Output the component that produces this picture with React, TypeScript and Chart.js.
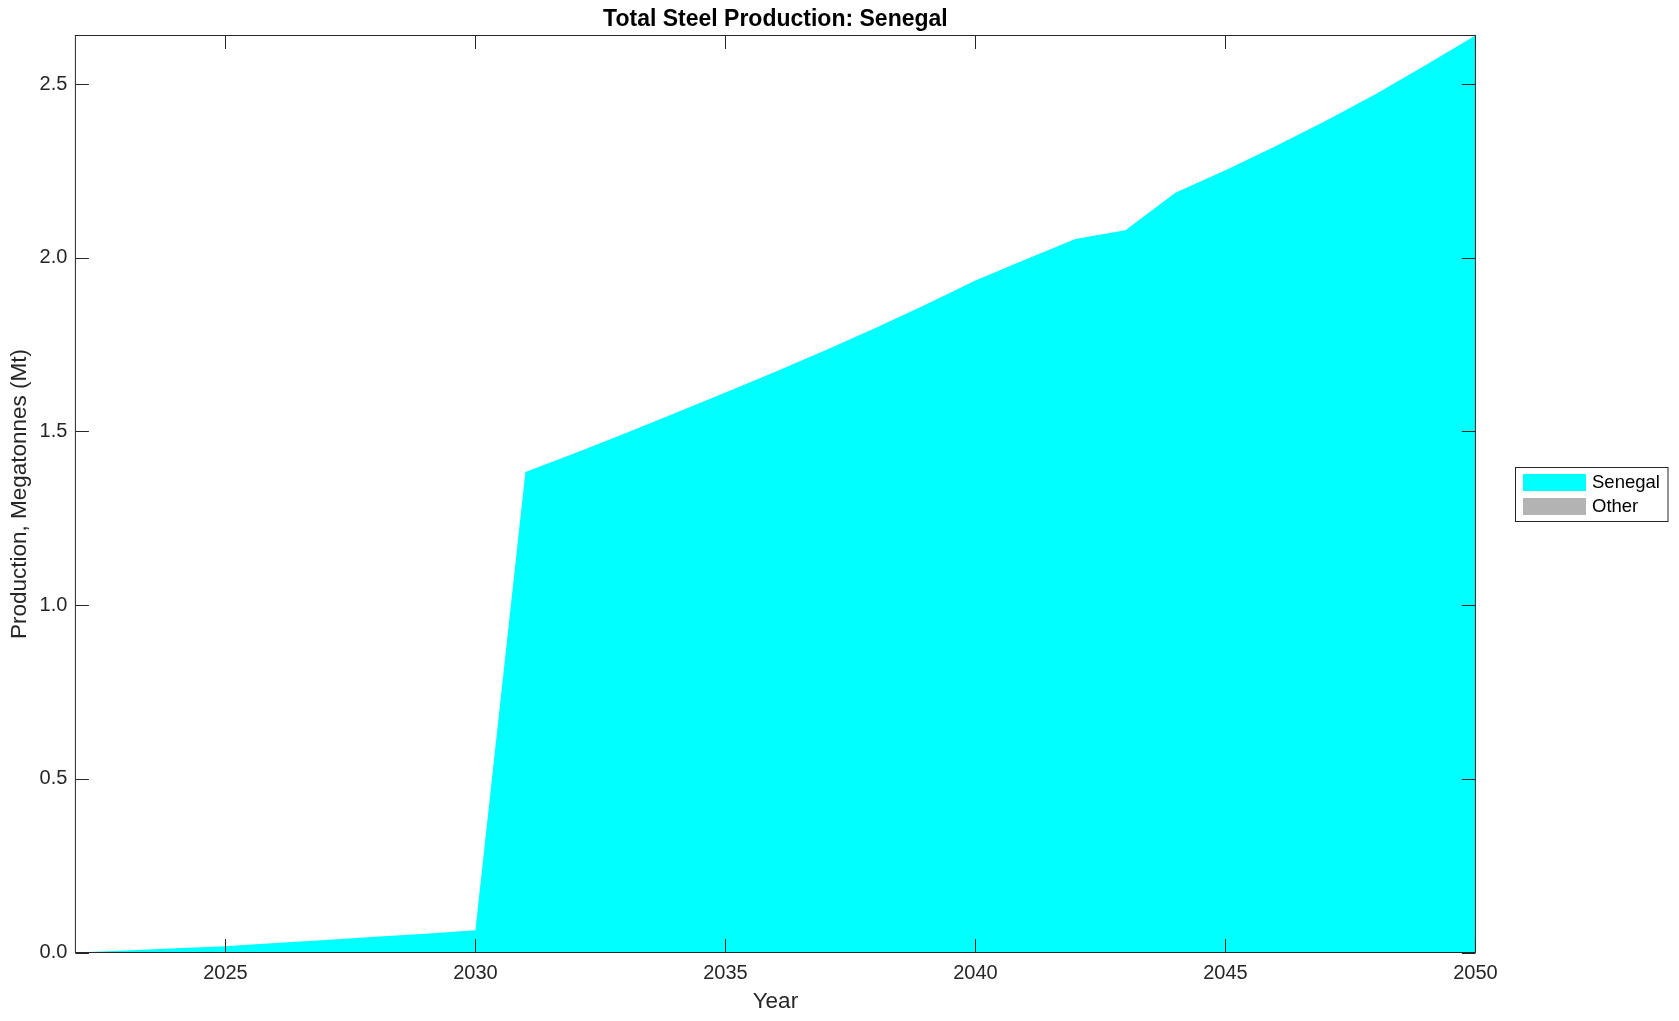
import React, { useEffect, useRef } from "react";
import { Chart, registerables } from "chart.js";

Chart.register(...registerables);

const years = [2022, 2023, 2024, 2025, 2026, 2027, 2028, 2029, 2030, 2031, 2032, 2033, 2034, 2035, 2036, 2037, 2038, 2039, 2040, 2041, 2042, 2043, 2044, 2045, 2046, 2047, 2048, 2049, 2050];
const senegal = [0.0, 0.006, 0.012, 0.018, 0.027, 0.036, 0.045, 0.054, 0.064, 1.383, 1.438, 1.495, 1.553, 1.612, 1.672, 1.734, 1.798, 1.865, 1.935, 1.995, 2.054, 2.079, 2.187, 2.252, 2.321, 2.394, 2.471, 2.554, 2.64];
const other = [0, 0, 0, 0, 0, 0, 0, 0, 0, 0, 0, 0, 0, 0, 0, 0, 0, 0, 0, 0, 0, 0, 0, 0, 0, 0, 0, 0, 0];
const seriesNames = ["Senegal", "Other"];
const seriesColors = ["#00FFFF", "#B3B3B3"];
const xTicks = [2025, 2030, 2035, 2040, 2045, 2050];
const yTicks = [0, 0.5, 1.0, 1.5, 2.0, 2.5];
const titleText = "Total Steel Production: Senegal";
const xTitle = "Year";
const yTitle = "Production, Megatonnes (Mt)";

const FONT = "'Liberation Sans', Arial, Helvetica, sans-serif";
const AXIS_COLOR = "#262626";

const decorPlugin = {
  id: "decor",
  afterDraw(chart: any) {
    const ctx = chart.ctx;
    const { left, right, top, bottom } = chart.chartArea;
    const xs = chart.scales.x;
    const ys = chart.scales.y;
    ctx.save();
    // frame
    ctx.strokeStyle = AXIS_COLOR;
    ctx.lineWidth = 1;
    ctx.strokeRect(left, top, right - left, bottom - top);
    const tl = 13.5;
    ctx.beginPath();
    xTicks.forEach((v) => {
      const px = Math.round(xs.getPixelForValue(v)) + 0.5;
      ctx.moveTo(px, bottom);
      ctx.lineTo(px, bottom - tl);
      ctx.moveTo(px, top);
      ctx.lineTo(px, top + tl);
    });
    yTicks.forEach((v) => {
      const py = Math.round(ys.getPixelForValue(v)) + 0.5;
      ctx.moveTo(left, py);
      ctx.lineTo(left + tl, py);
      ctx.moveTo(right, py);
      ctx.lineTo(right - tl, py);
    });
    ctx.stroke();

    const cx = (left + right) / 2;
    const cy = (top + bottom) / 2;
    // title
    ctx.fillStyle = "#000000";
    ctx.font = `bold 23px ${FONT}`;
    ctx.textAlign = "center";
    ctx.textBaseline = "middle";
    ctx.fillText(titleText, cx, 19.5);
    // axis titles
    ctx.fillStyle = AXIS_COLOR;
    ctx.font = `22.5px ${FONT}`;
    ctx.fillText(xTitle, cx, 1002);
    ctx.save();
    ctx.translate(20, cy);
    ctx.rotate(-Math.PI / 2);
    ctx.fillText(yTitle, 0, 0);
    ctx.restore();

    // legend
    const lx = 1515.5, ly = 467.5, lw = 152.5, lh = 54;
    ctx.fillStyle = "#FFFFFF";
    ctx.fillRect(lx, ly, lw, lh);
    ctx.strokeStyle = AXIS_COLOR;
    ctx.lineWidth = 1;
    ctx.strokeRect(lx, ly, lw, lh);
    ctx.font = `18.5px ${FONT}`;
    ctx.textAlign = "left";
    ctx.textBaseline = "middle";
    seriesNames.forEach((name, i) => {
      const sy = 474 + i * 24;
      ctx.fillStyle = seriesColors[i];
      ctx.fillRect(1523, sy, 63, 17);
      ctx.fillStyle = "#000000";
      ctx.fillText(name, 1592, sy + 9);
    });
    ctx.restore();
  },
};

export default function App() {
  const ref = useRef<HTMLCanvasElement | null>(null);
  useEffect(() => {
    document.body.style.margin = "0";
    const canvas = ref.current;
    if (!canvas) return;
    const chart = new Chart(canvas, {
      type: "line",
      data: {
        labels: years,
        datasets: [
          {
            label: seriesNames[0],
            data: years.map((y, i) => ({ x: y, y: senegal[i] })),
            backgroundColor: seriesColors[0],
            borderColor: seriesColors[0],
            borderWidth: 0,
            pointRadius: 0,
            fill: "origin",
            tension: 0,
          },
          {
            label: seriesNames[1],
            data: years.map((y, i) => ({ x: y, y: other[i] })),
            backgroundColor: seriesColors[1],
            borderColor: seriesColors[1],
            borderWidth: 0,
            pointRadius: 0,
            fill: "-1",
            tension: 0,
          },
        ],
      },
      options: {
        animation: false,
        responsive: false,
        maintainAspectRatio: false,
        layout: { padding: { top: 35.5, right: 203.6, left: 0, bottom: 0 } },
        plugins: {
          legend: { display: false },
          title: { display: false },
          tooltip: { enabled: false },
        },
        scales: {
          x: {
            type: "linear",
            min: 2022,
            max: 2050,
            grid: { display: false, drawTicks: false },
            border: { display: false },
            ticks: {
              color: AXIS_COLOR,
              font: { family: FONT, size: 20 },
              padding: 9,
              maxRotation: 0,
              autoSkip: false,
              callback: (v: any) => String(v),
            },
            afterBuildTicks: (s: any) => {
              s.ticks = xTicks.map((value) => ({ value }));
            },
            afterFit: (s: any) => {
              s.height = 68.5;
            },
          },
          y: {
            type: "linear",
            stacked: true,
            min: 0,
            max: 2.64,
            grid: { display: false, drawTicks: false },
            border: { display: false },
            ticks: {
              color: AXIS_COLOR,
              font: { family: FONT, size: 20 },
              padding: 8,
              autoSkip: false,
              callback: (v: any) => Number(v).toFixed(1),
            },
            afterBuildTicks: (s: any) => {
              s.ticks = yTicks.map((value) => ({ value }));
            },
            afterFit: (s: any) => {
              s.width = 75.4;
            },
          },
        },
      },
      plugins: [decorPlugin],
    });
    return () => chart.destroy();
  }, []);
  return (
    <div style={{ position: "absolute", left: 0, top: 0, width: 1679, height: 1021, background: "#fff" }}>
      <canvas ref={ref} width={1679} height={1021} style={{ display: "block" }} />
    </div>
  );
}
